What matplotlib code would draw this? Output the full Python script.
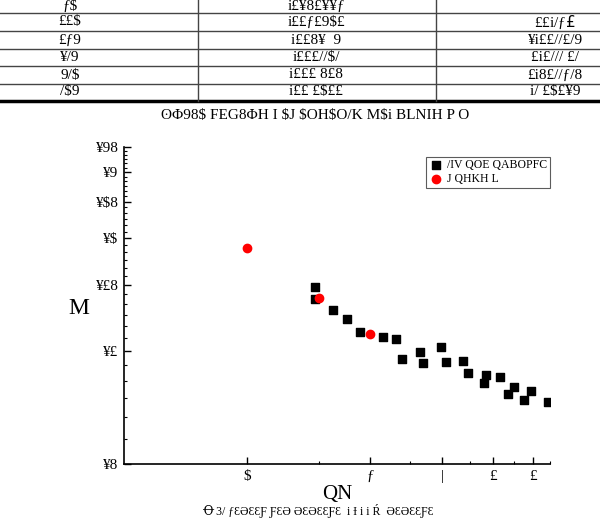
import matplotlib
matplotlib.use('Agg')
import matplotlib.pyplot as plt
from matplotlib.lines import Line2D
from matplotlib.ticker import FixedLocator, FixedFormatter, NullFormatter

plt.rcParams['font.family'] = ['Liberation Serif', 'DejaVu Serif', 'DejaVu Sans']

# data
sq_x = [14.62, 14.62, 16.21, 17.58, 18.91, 21.48, 23.11, 23.96, 26.41, 26.91, 29.85,
        30.58, 33.71, 34.61, 37.87, 38.37, 41.51, 43.52, 44.92, 47.53, 49.55, 54.29]
sq_y = [0.1483, 0.1378, 0.1284, 0.1219, 0.1126, 0.1092, 0.1078, 0.0954, 0.0996, 0.0927, 0.1023,
        0.0936, 0.0942, 0.0872, 0.0820, 0.0862, 0.0851, 0.0768, 0.0800, 0.0739, 0.0781, 0.0730]
red_x = [10, 15, 20]
red_y = [0.1884, 0.1382, 0.1108]

x_ticks = [10, 20, 30, 40, 50]
x_labels = ['$', 'ƒ', '|', '£', '£']
x_minor = [15, 25, 35, 45, 55]
y_ticks = [0.05, 0.10, 0.15, 0.20, 0.25, 0.30, 0.35]
y_labels = ['¥8', '¥£', '¥£8', '¥$', '¥$8', '¥9', '¥98']

legend_names = ['/IV QOE QABOPFC', 'J QHKH L']

# table rows above the chart (text as it appears)
col1 = ['ƒ$', '££$', '£ƒ9', '¥/9', '9/$', '/$9']
col2 = ['i£¥8£¥¥ƒ', 'i££ƒ£9$£', 'i££8¥  9', 'i£££//$/', 'i£££ 8£8', 'i££ £$££']
col3 = ['', '££i/ƒ$£ $', '¥i££//£/9', '£i£/// £/', '£i8£//ƒ/8', 'i/ £$£¥9']
title = 'ʘΦ98$ FEG8ΦH I $J $OH$O/K M$i BLNIH P O'
caption = 'Ꝋ 3/ ƒƐƏƐƐƑ ƑƐƏ ƏƐƏƐƐƑƐ  i Ɨ i i Ŕ  ƏƐƏƐƐƑƐ'

W, H = 600, 518
fig = plt.figure(figsize=(6, 5.18), dpi=100)
ax = fig.add_axes([124 / W, 1 - 464 / H, 426 / W, 317 / H])

ax.scatter(sq_x, sq_y, marker='s', s=28, color='black', label=legend_names[0], zorder=3)
ax.scatter(red_x, red_y, marker='o', s=36, color='red', label=legend_names[1], zorder=4)

ax.set_xscale('log')
ax.set_yscale('log')
ax.set_xlim(5, 55)
ax.set_ylim(0.05, 0.35)

ax.xaxis.set_major_locator(FixedLocator(x_ticks))
ax.xaxis.set_major_formatter(FixedFormatter(x_labels))
ax.xaxis.set_minor_locator(FixedLocator(x_minor))
ax.xaxis.set_minor_formatter(NullFormatter())

y_minor = []
for a, b in zip(y_ticks[:-1], y_ticks[1:]):
    y_minor += [a + (b - a) * k / 6 for k in range(1, 6)]
ax.yaxis.set_major_locator(FixedLocator(y_ticks))
ax.yaxis.set_major_formatter(FixedFormatter(y_labels))
ax.yaxis.set_minor_locator(FixedLocator(y_minor))
ax.yaxis.set_minor_formatter(NullFormatter())

for s in ['top', 'right']:
    ax.spines[s].set_visible(False)
for s in ['left', 'bottom']:
    ax.spines[s].set_linewidth(1.2)
ax.tick_params(which='major', direction='in', length=5, width=1, labelsize=11, pad=4)
ax.tick_params(which='minor', direction='in', length=2.5, width=0.8)

ax.set_xlabel('QN', fontsize=15)
ax.xaxis.set_label_coords(0.5, -0.095)
ax.xaxis.label.set_va('center')
ax.set_ylabel('M', fontsize=17, rotation=0)
ax.yaxis.set_label_coords(-0.106, 0.49)
ax.yaxis.label.set_va('center')

leg = ax.legend(loc='upper right', bbox_to_anchor=(1.0, 0.97), frameon=True, fancybox=False,
                fontsize=8.5, handletextpad=0.3, borderpad=0.25, labelspacing=0.1,
                handlelength=1.2, borderaxespad=0)
leg.get_frame().set_edgecolor('#333333')
leg.get_frame().set_linewidth(0.8)

# table drawn in figure coordinates
row_lines = [13, 31, 48.5, 66, 83.5]
for yl in row_lines:
    fig.add_artist(Line2D([0, 1], [1 - yl / H] * 2, color='#444444', lw=1.0))
fig.add_artist(Line2D([0, 1], [1 - 101 / H] * 2, color='black', lw=2.5))
for xl in [198, 436]:
    fig.add_artist(Line2D([xl / W] * 2, [1, 1 - 101 / H], color='#444444', lw=1.0))

row_y = [6, 22, 40, 57.5, 75, 92]
for yy, a, b, c in zip(row_y, col1, col2, col3):
    fig.text(70 / W, 1 - yy / H, a, ha='center', va='center', fontsize=11)
    fig.text(316 / W, 1 - yy / H, b, ha='center', va='center', fontsize=11)
    fig.text(555 / W, 1 - yy / H, c, ha='center', va='center', fontsize=11)

fig.text(315 / W, 1 - 116 / H, title, ha='center', va='center', fontsize=11)
fig.text(318 / W, 1 - 510.5 / H, caption, ha='center', va='center', fontsize=8.5)

fig.savefig('out.png', dpi=100)
